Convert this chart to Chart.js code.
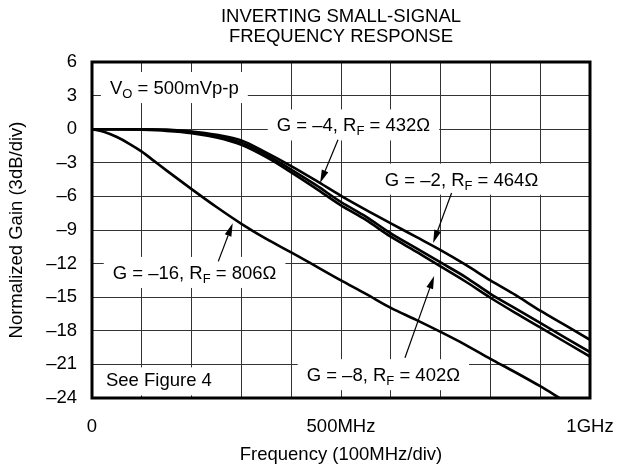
<!DOCTYPE html>
<html>
<head>
<meta charset="utf-8">
<script src="https://cdn.jsdelivr.net/npm/chart.js@4.4.0/dist/chart.umd.min.js"></script>
<style>
  html, body { margin: 0; padding: 0; background: #fff; }
  #wrap { width: 632px; height: 468px; }
</style>
</head>
<body>
<div id="wrap"><canvas id="chart-gain"></canvas></div>
<script>
// frequency points, MHz
var freqMHz = [0, 50, 100, 150, 200, 250, 300, 350, 400, 450, 500, 550, 600, 650, 700, 750, 800, 850, 900, 950, 1000];
var freqG16 = [0, 25, 50, 75, 100, 125, 150, 200, 250, 300, 350, 400, 450, 500, 550, 600, 650, 700, 750, 800, 850, 900, 950, 1000];

// normalized gain, dB
var gainG2 = [0, 0, 0, -0.05, -0.2, -0.5, -1.0, -2.1, -3.3, -4.6, -5.95, -7.2, -8.4, -9.6, -10.8, -12.1, -13.5, -14.8, -16.2, -17.5, -18.8];
var gainG4 = [0, 0, 0, -0.05, -0.25, -0.6, -1.2, -2.3, -3.6, -5.0, -6.5, -7.8, -9.3, -10.6, -11.9, -13.2, -14.7, -16.0, -17.3, -18.6, -19.9];
var gainG8 = [0, 0, -0.05, -0.15, -0.35, -0.75, -1.4, -2.5, -3.85, -5.3, -6.8, -8.1, -9.6, -10.9, -12.25, -13.6, -15.05, -16.4, -17.7, -19.0, -20.3];
var gainG16 = [0, -0.25, -0.7, -1.3, -2.0, -2.85, -3.7, -5.35, -6.95, -8.45, -9.8, -11.0, -12.25, -13.5, -14.7, -15.95, -17.0, -18.1, -19.25, -20.5, -21.7, -22.95, -24.3, -25.6];

// axis labels
var xTickValues = [0, 500, 1000];
var xTickText = ['0', '500MHz', '1GHz'];
var yTickValues = [6, 3, 0, -3, -6, -9, -12, -15, -18, -21, -24];
var yTickText = ['6', '3', '0', '–3', '–6', '–9', '–12', '–15', '–18', '–21', '–24'];

var titleLines = ['INVERTING SMALL-SIGNAL', 'FREQUENCY RESPONSE'];

// curve labels: [text, subscript?] parts, anchored at (MHz, dB) of the text baseline start
var notes = [
  { parts: [['V', 0], ['O', 1], [' = 500mVp-p', 0]], f: 36, db: 3.14 },
  { parts: [['G = –4, R', 0], ['F', 1], [' = 432Ω', 0]], f: 371, db: -0.2 },
  { parts: [['G = –2, R', 0], ['F', 1], [' = 464Ω', 0]], f: 588, db: -5.04 },
  { parts: [['G = –16, R', 0], ['F', 1], [' = 806Ω', 0]], f: 41.6, db: -13.37 },
  { parts: [['G = –8, R', 0], ['F', 1], [' = 402Ω', 0]], f: 431, db: -22.5 },
  { parts: [['See Figure 4', 0]], f: 28, db: -22.96, padTop: 19 }
];

// arrows from label to curve: [tailMHz, tailDb, tipMHz, tipDb]
var arrows = [
  [494, -0.94, 458, -4.8],
  [722, -5.7, 685, -10.16],
  [628.5, -20.4, 687, -13.1],
  [253.6, -11.8, 282.5, -8.4]
];

var FONT = '"Liberation Sans", Arial, Helvetica, sans-serif';
var TEXT_SIZE = 18.5;

function toPts(xs, ys) {
  return xs.map(function (f, i) { return { x: f, y: ys[i] }; });
}

function curve(label, xs, ys) {
  return {
    label: label,
    data: toPts(xs, ys),
    borderColor: '#000',
    borderWidth: 2.6,
    pointRadius: 0,
    fill: false,
    cubicInterpolationMode: 'monotone'
  };
}

function drawParts(ctx, parts, x, y, measureOnly) {
  var cx = x;
  parts.forEach(function (p) {
    ctx.font = (p[1] ? '13px ' : TEXT_SIZE + 'px ') + FONT;
    if (!measureOnly) ctx.fillText(p[0], cx, y + (p[1] ? 4 : 0));
    cx += ctx.measureText(p[0]).width;
  });
  return cx - x;
}

var decorations = {
  id: 'decorations',
  beforeDatasetsDraw: function (chart) {
    var ctx = chart.ctx, xs = chart.scales.x, ys = chart.scales.y;
    ctx.save();
    ctx.textBaseline = 'alphabetic';
    notes.forEach(function (n) {
      var x = xs.getPixelForValue(n.f), y = ys.getPixelForValue(n.db);
      var w = drawParts(ctx, n.parts, x, y, true);
      var top = n.padTop || 22;
      ctx.fillStyle = '#fff';
      ctx.fillRect(x - 9, y - top, w + 18, top + 9);
      ctx.fillStyle = '#000';
      drawParts(ctx, n.parts, x, y, false);
    });
    ctx.restore();
  },
  afterDatasetsDraw: function (chart) {
    var ctx = chart.ctx, xs = chart.scales.x, ys = chart.scales.y;
    ctx.save();
    ctx.strokeStyle = '#000';
    ctx.fillStyle = '#000';
    ctx.lineWidth = 1.2;
    arrows.forEach(function (a) {
      var x0 = xs.getPixelForValue(a[0]), y0 = ys.getPixelForValue(a[1]);
      var x1 = xs.getPixelForValue(a[2]), y1 = ys.getPixelForValue(a[3]);
      var ang = Math.atan2(y1 - y0, x1 - x0);
      var len = 13, half = 3.5;
      var bx = x1 - len * Math.cos(ang), by = y1 - len * Math.sin(ang);
      ctx.beginPath();
      ctx.moveTo(x0, y0);
      ctx.lineTo(bx, by);
      ctx.stroke();
      ctx.beginPath();
      ctx.moveTo(x1, y1);
      ctx.lineTo(bx + half * Math.sin(ang), by - half * Math.cos(ang));
      ctx.lineTo(bx - half * Math.sin(ang), by + half * Math.cos(ang));
      ctx.closePath();
      ctx.fill();
    });
    ctx.restore();
  },
  afterDraw: function (chart) {
    var ctx = chart.ctx, area = chart.chartArea;
    ctx.save();
    // plot frame
    ctx.strokeStyle = '#000';
    ctx.lineWidth = 3;
    ctx.strokeRect(area.left, area.top, area.right - area.left, area.bottom - area.top);
    // two-line heading over the plot
    ctx.fillStyle = '#000';
    ctx.font = TEXT_SIZE + 'px ' + FONT;
    ctx.textAlign = 'center';
    ctx.textBaseline = 'alphabetic';
    var cx = (area.left + area.right) / 2;
    ctx.fillText(titleLines[0], cx, 22);
    ctx.fillText(titleLines[1], cx, 42);
    ctx.restore();
  }
};

var ctx = document.getElementById('chart-gain').getContext('2d');
new Chart(ctx, {
  type: 'line',
  data: {
    datasets: [
      curve('G = -2', freqMHz, gainG2),
      curve('G = -4', freqMHz, gainG4),
      curve('G = -8', freqMHz, gainG8),
      curve('G = -16', freqG16, gainG16)
    ]
  },
  options: {
    responsive: true,
    maintainAspectRatio: false,
    animation: false,
    layout: { padding: { top: 62, right: 42, left: 0, bottom: 0 } },
    plugins: {
      legend: { display: false },
      tooltip: { enabled: false }
    },
    scales: {
      x: {
        type: 'linear',
        min: 0,
        max: 1000,
        afterFit: function (s) { s.height = 70; },
        afterBuildTicks: function (s) {
          s.ticks = [];
          for (var v = 0; v <= 1000; v += 100) s.ticks.push({ value: v });
        },
        grid: { color: '#333', lineWidth: 1, drawTicks: false },
        border: { display: false },
        ticks: {
          autoSkip: false,
          maxRotation: 0,
          padding: 18,
          color: '#000',
          font: { size: TEXT_SIZE, family: FONT },
          callback: function (v) {
            var i = xTickValues.indexOf(v);
            return i < 0 ? '' : xTickText[i];
          }
        },
        title: {
          display: true,
          text: 'Frequency (100MHz/div)',
          color: '#000',
          font: { size: TEXT_SIZE, family: FONT },
          padding: { top: 0, bottom: 2 }
        }
      },
      y: {
        min: -24,
        max: 6,
        afterFit: function (s) { s.width = 92; },
        grid: { color: '#333', lineWidth: 1, drawTicks: false },
        border: { display: false },
        ticks: {
          stepSize: 3,
          padding: 15,
          color: '#000',
          font: { size: TEXT_SIZE, family: FONT },
          callback: function (v) {
            var i = yTickValues.indexOf(v);
            return i < 0 ? '' : yTickText[i];
          }
        },
        title: {
          display: true,
          text: 'Normalized Gain (3dB/div)',
          color: '#000',
          font: { size: TEXT_SIZE, family: FONT },
          padding: { top: 6, bottom: 0 }
        }
      }
    }
  },
  plugins: [decorations]
});
</script>
</body>
</html>
